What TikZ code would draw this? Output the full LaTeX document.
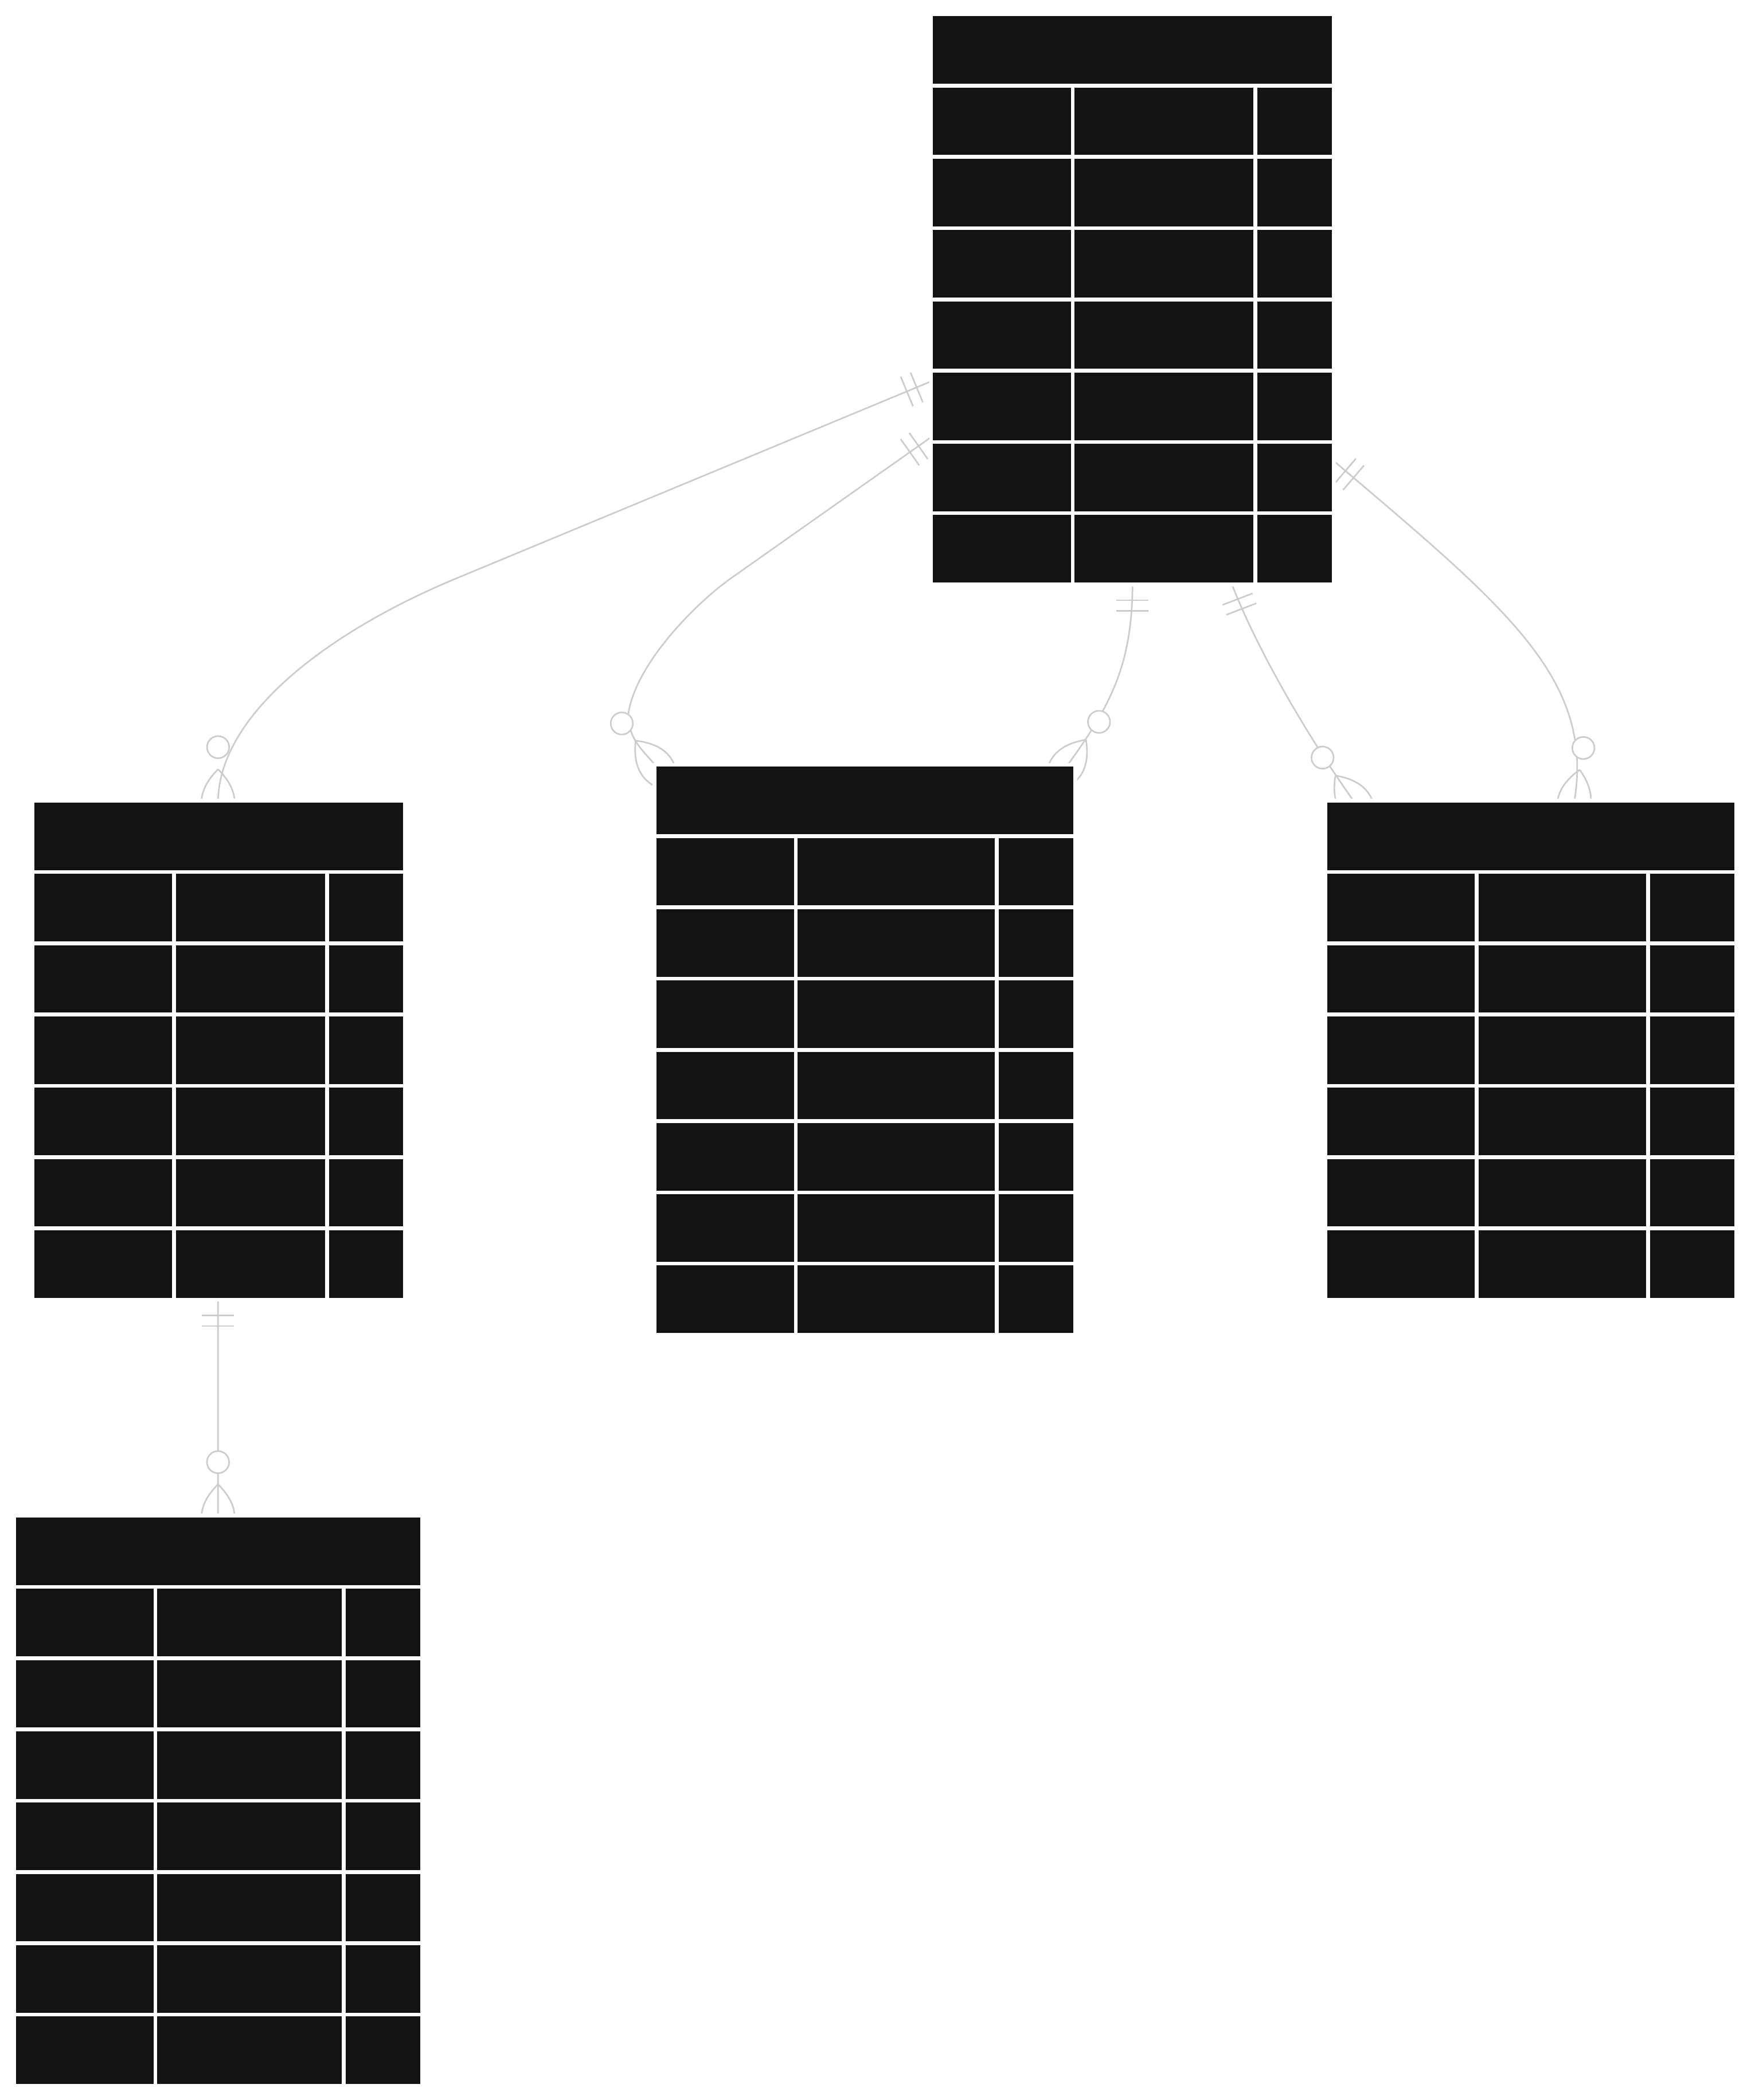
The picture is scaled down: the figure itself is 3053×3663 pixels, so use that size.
\documentclass[tikz,border=0pt]{standalone}
\usetikzlibrary{decorations.markings,calc}
\definecolor{cellc}{HTML}{131315}
\definecolor{edgec}{HTML}{CCCCCC}
\pgfdeclarelayer{bg}
\pgfdeclarelayer{edges}
\pgfsetlayers{bg,edges,main}
\tikzset{
  erline/.style={draw=edgec, line width=0.675pt},
  tablebox/.style={rectangle, inner sep=0pt, outer sep=0pt, anchor=north west, fill=cellc, preaction={draw=white, line width=3.3pt}},
  gridline/.style={draw=white, line width=1.65pt},
  onestart/.style={postaction={decorate, decoration={markings, mark=at position 0 with {\draw[erline] (7.75pt,-7pt) -- (7.75pt,7pt) (12.375pt,-7pt) -- (12.375pt,7pt);}}}},
  manyend/.style={postaction={decorate, decoration={markings, mark=at position 0.9999 with {\draw[erline] (-14.5pt,0pt) .. controls (-4.833pt,9.667pt) and (4.833pt,9.667pt) .. (14.5pt,0pt) .. controls (4.833pt,-9.667pt) and (-4.833pt,-9.667pt) .. (-14.5pt,0pt); \draw[erline, fill=white] (-24.15pt,0pt) circle[radius=4.825pt];}}}}
}
\newcommand{\erGrid}[4]{%
  \foreach \k in {1,...,#2} {
    \draw[gridline] ([shift={(0,{121+124.3*(\k-1)})}]#1.north west) -- ([shift={(0,{121+124.3*(\k-1)})}]#1.north east);
  }
  \draw[gridline] ([shift={(#3,121)}]#1.north west) -- ([shift={(#3,0)}]#1.south west);
  \draw[gridline] ([shift={(#4,121)}]#1.north west) -- ([shift={(#4,0)}]#1.south west);
}
\begin{document}
\begin{tikzpicture}[x=0.25pt, y=-0.25pt]
\useasboundingbox (0,0) rectangle (3053,3663);
\begin{pgfonlayer}{bg}
  \fill[white] (0,0) rectangle (3053,3663);
\end{pgfonlayer}
% tables
\node[tablebox, minimum width=173.9pt, minimum height=246.95pt] (A) at (1627.4,28.3) {};
\node[tablebox, minimum width=160.775pt, minimum height=215.875pt] (B) at (59.9,1400) {};
\node[tablebox, minimum width=181.75pt, minimum height=246.95pt] (C) at (1145,1337.3) {};
\node[tablebox, minimum width=177.35pt, minimum height=215.875pt] (D) at (2315.4,1400) {};
\node[tablebox, minimum width=176.3pt, minimum height=246.95pt] (E) at (27.8,2647) {};
\erGrid{A}{7}{243.4}{562.2}
\erGrid{B}{6}{243.6}{510.6}
\erGrid{C}{7}{243}{593.6}
\erGrid{D}{6}{259.8}{559.3}
\erGrid{E}{7}{243.1}{571.9}
% connectors
\begin{pgfonlayer}{edges}
  \draw[erline, onestart, manyend] ([shift={(0,635.5)}]A.north west) -- (796.7,1008.5) .. controls (566,1104.3) and (380.3,1250) .. ([shift={(320.4,0)}]B.north west);
  \draw[erline, onestart, manyend] ([shift={(0,731.8)}]A.north west) -- (1276.1,1007.8) .. controls (1210.7,1053.9) and (1108,1160) .. (1096,1245) .. controls (1095,1290) and (1123.1,1310) .. (C.north west);
  \draw[erline, onestart, manyend] ([shift={(347.9,0)}]A.south west) .. controls (1975.3,1160) and (1936.4,1232.1) .. ([shift={(-12,0)}]C.north east);
  \draw[erline, onestart, manyend] ([shift={(520,0)}]A.south west) .. controls (2193.6,1136.9) and (2287.2,1294.3) .. ([shift={(47.6,0)}]D.north west);
  \draw[erline, onestart, manyend] ([shift={(0,772.9)}]A.north east) .. controls (2627.8,1060.4) and (2782.2,1183.1) .. ([shift={(430.1,0)}]D.north west);
  \draw[erline, onestart, manyend] ([shift={(320.4,0)}]B.south west) -- ([shift={(352.5,0)}]E.north west);
\end{pgfonlayer}
\end{tikzpicture}
\end{document}
